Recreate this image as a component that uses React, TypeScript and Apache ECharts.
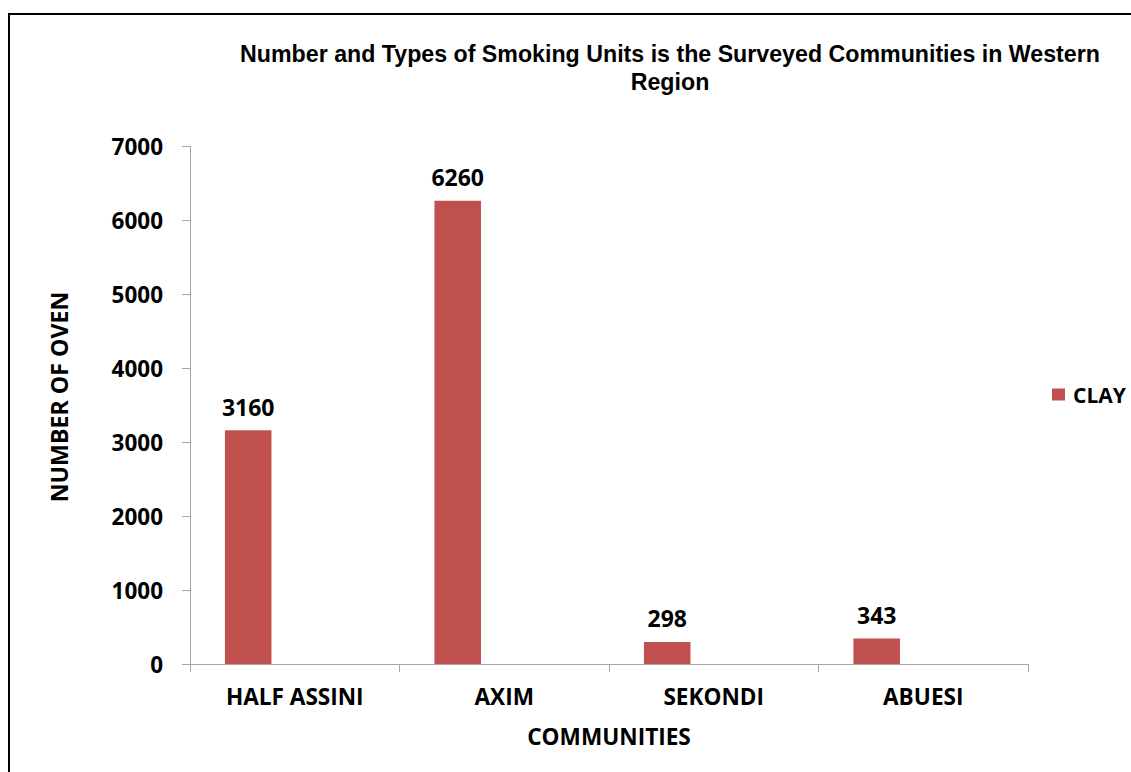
import React, { useEffect, useRef } from "react";
import * as echarts from "echarts";

const categories = ["HALF ASSINI", "AXIM", "SEKONDI", "ABUESI"];
const clayValues = [3160, 6260, 298, 343];
const seriesName = "CLAY";
const yTicks = { min: 0, max: 7000, interval: 1000 };
const titleText = "Number and Types of Smoking Units is the Surveyed Communities in Western\nRegion";
const yAxisTitle = "NUMBER OF OVEN";
const xAxisTitle = "COMMUNITIES";

const LABEL_FONT = "'Open Sans', 'Noto Sans', sans-serif";

export default function App() {
  const ref = useRef<HTMLDivElement>(null);
  useEffect(() => {
    if (!ref.current) return;
    const chart = echarts.init(ref.current, undefined, { renderer: "svg" });
    chart.setOption({
      animation: false,
      backgroundColor: "#ffffff",
      title: {
        text: titleText,
        left: 665,
        top: 35,
        textAlign: "center",
        textStyle: {
          fontFamily: "'Liberation Sans', Arial, sans-serif",
          fontWeight: "bold",
          fontSize: 23.2,
          lineHeight: 28,
          color: "#000",
        },
      },
      legend: {
        data: [seriesName],
        orient: "vertical",
        left: 1047,
        top: 379,
        itemWidth: 13,
        itemHeight: 12,
        itemGap: 8,
        icon: "rect",
        textStyle: {
          fontFamily: LABEL_FONT,
          fontWeight: "bold",
          fontSize: 21,
          color: "#000",
          padding: [0, 0, 0, 3],
        },
      },
      grid: { left: 190, right: 103, top: 146, bottom: 108, containLabel: false },
      xAxis: {
        type: "category",
        data: categories,
        name: xAxisTitle,
        nameLocation: "middle",
        nameGap: 61,
        nameTextStyle: { fontFamily: LABEL_FONT, fontWeight: "bold", fontSize: 22.6, color: "#000" },
        axisLine: { show: true, lineStyle: { color: "#a6a6a6", width: 1 } },
        axisTick: { show: true, alignWithLabel: false, length: 8, lineStyle: { color: "#a6a6a6" } },
        axisLabel: {
          fontFamily: LABEL_FONT,
          fontWeight: "bold",
          fontSize: 22.6,
          color: "#000",
          margin: 21,
          interval: 0,
        },
      },
      yAxis: {
        type: "value",
        min: yTicks.min,
        max: yTicks.max,
        interval: yTicks.interval,
        name: yAxisTitle,
        nameLocation: "middle",
        nameGap: 120,
        nameRotate: 90,
        nameTextStyle: {
          fontFamily: LABEL_FONT,
          fontWeight: "bold",
          fontSize: 23.2,
          color: "#000",
          padding: [0, 0, 0, 16],
        },
        axisLine: { show: true, lineStyle: { color: "#a6a6a6", width: 1 } },
        axisTick: { show: true, length: 8, lineStyle: { color: "#a6a6a6" } },
        splitLine: { show: false },
        axisLabel: {
          fontFamily: LABEL_FONT,
          fontWeight: "bold",
          fontSize: 22.5,
          color: "#000",
          margin: 27,
          formatter: (v: number) => String(v),
        },
      },
      graphic: [
        {
          type: "rect",
          shape: { x: 9, y: 14, width: 1200, height: 900 },
          style: { fill: "none", stroke: "#000", lineWidth: 2 },
          silent: true,
          z: 100,
        },
      ],
      series: [
        {
          name: seriesName,
          type: "bar",
          data: clayValues,
          barGap: "0%",
          barCategoryGap: "33.333%",
          itemStyle: { color: "#c0504d" },
          label: {
            show: true,
            position: "top",
            distance: 12,
            fontFamily: LABEL_FONT,
            fontWeight: "bold",
            fontSize: 23,
            color: "#000",
          },
        },
        { name: "_s2", type: "bar", data: [], barGap: "0%", barCategoryGap: "33.333%" },
        { name: "_s3", type: "bar", data: [], barGap: "0%", barCategoryGap: "33.333%" },
      ],
    });
    return () => chart.dispose();
  }, []);
  return (
    <div
      ref={ref}
      style={{ position: "absolute", left: 0, top: 0, width: 1131, height: 772 }}
    />
  );
}
